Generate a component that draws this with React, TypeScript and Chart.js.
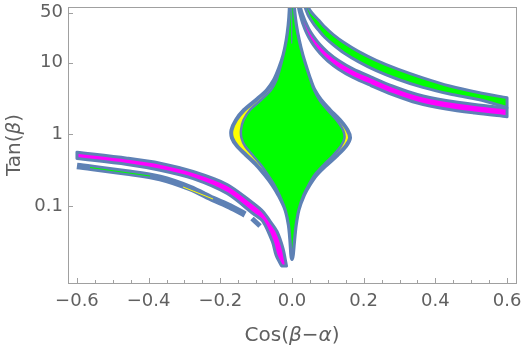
import React, { useEffect, useRef } from 'react';
import { Chart, registerables } from 'chart.js';

Chart.register(...registerables);

type P = [number, number];

// ---- axes ----
const X_TICKS = [-0.6, -0.4, -0.2, 0, 0.2, 0.4, 0.6];
const X_TICK_LABELS = ['\u22120.6', '\u22120.4', '\u22120.2', '0.0', '0.2', '0.4', '0.6'];
const X_MINOR_TICKS = [-0.55, -0.5, -0.45, -0.35, -0.3, -0.25, -0.15, -0.1, -0.05, 0.05, 0.1, 0.15, 0.25, 0.3, 0.35, 0.45, 0.5, 0.55];
const Y_TICKS = [0.1, 1, 10, 50];
const Y_TICK_LABELS = ['0.1', '1', '10', '50'];
const X_RANGE: P = [-0.625, 0.625];
const Y_RANGE: P = [0.00838, 60];

// ---- central region: outer boundary (yellow rim) ----
const centralOuter: P[] = [
  [-0.0055, 90], [-0.00642, 54.45], [-0.00948, 33.62], [-0.01506, 20.75], [-0.02371, 12.81],
  [-0.0357, 8.43], [-0.05021, 5.73], [-0.06974, 4.157], [-0.10042, 3.013], [-0.13389, 2.185],
  [-0.15621, 1.584], [-0.16876, 1.148], [-0.16736, 0.888], [-0.15342, 0.6866], [-0.12831, 0.514],
  [-0.09902, 0.3726], [-0.07531, 0.2702], [-0.05439, 0.1958], [-0.03766, 0.142], [-0.01813, 0.0877],
  [-0.00893, 0.0541], [-0.00474, 0.0334], [-0.00195, 0.0206], [0, 0.01813], [0.00223, 0.0206],
  [0.00614, 0.0334], [0.0106, 0.0541], [0.01813, 0.0877], [0.03347, 0.142], [0.04881, 0.1958],
  [0.06834, 0.2702], [0.09623, 0.3726], [0.12692, 0.514], [0.15063, 0.6866], [0.16179, 0.888],
  [0.15481, 1.148], [0.13389, 1.584], [0.106, 2.185], [0.08089, 3.013], [0.06276, 4.157],
  [0.0516, 5.73], [0.04045, 8.43], [0.02929, 12.81], [0.01897, 20.75], [0.01116, 33.62],
  [0.00614, 54.45], [0.0045, 90],
];
// ---- central region: inner (green) core ----
const centralInner: P[] = [
  [-0.0055, 90], [-0.00642, 54.45], [-0.00948, 33.62], [-0.01506, 20.75], [-0.02371, 12.81],
  [-0.03291, 8.43], [-0.04324, 5.73], [-0.05858, 4.157], [-0.08647, 3.013], [-0.11715, 2.185],
  [-0.13529, 1.584], [-0.14226, 1.148], [-0.14086, 0.888], [-0.1311, 0.6866], [-0.11018, 0.514],
  [-0.08647, 0.3726], [-0.06695, 0.2702], [-0.04881, 0.1958], [-0.03487, 0.142], [-0.01813, 0.0877],
  [-0.00893, 0.0541], [-0.00474, 0.0334], [-0.00195, 0.0206], [0, 0.01813], [0.00223, 0.0206],
  [0.00614, 0.0334], [0.0106, 0.0541], [0.01813, 0.0877], [0.03208, 0.142], [0.04603, 0.1958],
  [0.06276, 0.2702], [0.08787, 0.3726], [0.11576, 0.514], [0.13668, 0.6866], [0.14644, 0.888],
  [0.14226, 1.148], [0.12413, 1.584], [0.09902, 2.185], [0.07671, 3.013], [0.06137, 4.157],
  [0.0516, 5.73], [0.04045, 8.43], [0.02929, 12.81], [0.01897, 20.75], [0.01116, 33.62],
  [0.00614, 54.45], [0.0045, 90],
];
// thin boundary sliver inside the top of the core spike
const coreSpikeLine: P[] = [[-0.0008, 60], [-0.0008, 18.8]];

// ---- upper-right green band ----
const urGreenUpper: P[] = [
  [0.032, 90], [0.04, 70], [0.043, 64], [0.047, 57.5], [0.053, 51.5], [0.062, 45.5],
  [0.075, 39.1], [0.092, 31.4], [0.115, 24.7], [0.145, 19.1], [0.185, 14.4], [0.235, 10.8],
  [0.295, 8.12], [0.365, 6.14], [0.44, 4.73], [0.52, 3.835], [0.6, 3.245],
];
const urGreenLower: P[] = [
  [0.032, 68.6], [0.04, 53.1], [0.043, 48.8], [0.047, 44.1], [0.053, 39.6], [0.062, 33.9],
  [0.075, 28.1], [0.092, 22.5], [0.115, 17.8], [0.145, 13.7], [0.185, 10.37], [0.235, 7.75],
  [0.295, 5.88], [0.365, 4.52], [0.44, 3.655], [0.52, 3.062], [0.6, 2.367],
];
// ---- upper-right magenta band ----
const urMagentaUpper: P[] = [
  [0.0165, 84.7], [0.019, 73.6], [0.022, 63.5], [0.026, 53.8], [0.031, 45.1], [0.038, 36.8],
  [0.047, 29.7], [0.06, 23.3], [0.078, 17.9], [0.1, 13.98], [0.13, 10.75], [0.17, 8.22],
  [0.22, 6.35], [0.28, 4.73], [0.35, 3.596], [0.43, 2.965], [0.51, 2.608], [0.6, 2.33],
];
const urMagentaLower: P[] = [
  [0.0165, 64.1], [0.019, 55.6], [0.022, 48.0], [0.026, 40.7], [0.031, 34.1], [0.038, 27.8],
  [0.047, 22.5], [0.06, 17.6], [0.078, 13.55], [0.1, 10.57], [0.13, 8.13], [0.17, 6.22],
  [0.22, 4.8], [0.28, 3.596], [0.35, 2.736], [0.43, 2.256], [0.51, 1.984], [0.6, 1.762],
];

// ---- lower-left magenta band ----
const llMagentaUpper: P[] = [
  [-0.6, 0.562], [-0.46, 0.464], [-0.368, 0.395], [-0.276, 0.302], [-0.181, 0.199],
  [-0.109, 0.1098], [-0.081, 0.0835], [-0.0614, 0.0615], [-0.0418, 0.0439], [-0.0251, 0.0254],
  [-0.0153, 0.0145],
];
const llMagentaLower: P[] = [
  [-0.6, 0.459], [-0.46, 0.379], [-0.368, 0.315], [-0.276, 0.241], [-0.181, 0.149],
  [-0.109, 0.0783], [-0.081, 0.0605], [-0.0544, 0.0313], [-0.0446, 0.0206], [-0.0293, 0.0145],
];
// ---- lower-left thin (boundary-only) band ----
const llThinBand: P[] = [
  [-0.6, 0.3607], [-0.46, 0.2927], [-0.368, 0.2454], [-0.2845, 0.1778], [-0.2204, 0.1249],
  [-0.173, 0.0981], [-0.131, 0.0758],
];
const llThinDash: P[] = [[-0.1116, 0.0667], [-0.0893, 0.0524]];
const llGreenTrace: P[] = [[-0.5635, 0.344], [-0.396, 0.2616]];
const llYellowTrace: P[] = [[-0.304, 0.1837], [-0.2204, 0.1249]];

const X_TITLE_RUNS: [string, boolean][] = [['Cos(', false], ['\u03B2', true], ['\u2212', false], ['\u03B1', true], [')', false]];
const Y_TITLE_RUNS: [string, boolean][] = [['Tan(', false], ['\u03B2', true], [')', false]];

const BLUE = '#5E81B5';
const GREEN = '#00FF00';
const YELLOW = '#FFFF00';
const MAGENTA = '#FF00FF';
const FONT = '"DejaVu Sans", sans-serif';
const TEXT = '#606060';
const FRAME = '#a0a0a0';

const pts = (a: P[]) => a.map(([x, y]) => ({ x, y }));
// closed band outline; corner points are doubled so the spline keeps sharp corners at the caps
const closedBand = (u: P[], l: P[]) => {
  const lr = l.slice().reverse();
  return pts([...u, u[u.length - 1], ...lr.slice(0, 1), ...lr, lr[lr.length - 1], u[0]]);
};
const closed = (a: P[]) => pts([...a, a[0]]);

function drawRuns(ctx: CanvasRenderingContext2D, runs: [string, boolean][], size: number) {
  const fonts = runs.map(([, it]) => `${it ? 'italic ' : ''}${size}px ${FONT}`);
  let total = 0;
  const widths = runs.map(([t], i) => {
    ctx.font = fonts[i];
    const w = ctx.measureText(t).width;
    total += w;
    return w;
  });
  let x = -total / 2;
  runs.forEach(([t], i) => {
    ctx.font = fonts[i];
    ctx.fillText(t, x, 0);
    x += widths[i];
  });
}

const framePlugin = {
  id: 'frameAndTitles',
  afterDraw(chart: any) {
    const { ctx, chartArea } = chart;
    const { left, right, top, bottom } = chartArea;
    const xs = chart.scales.x;
    const ys = chart.scales.y;
    ctx.save();
    ctx.strokeStyle = FRAME;
    ctx.lineWidth = 1;
    ctx.strokeRect(Math.round(left) + 0.5, Math.round(top) + 0.5, Math.round(right - left), Math.round(bottom - top));
    ctx.beginPath();
    X_TICKS.forEach((v) => {
      const px = Math.round(xs.getPixelForValue(v)) + 0.5;
      ctx.moveTo(px, bottom);
      ctx.lineTo(px, bottom - 5);
    });
    X_MINOR_TICKS.forEach((v) => {
      const px = Math.round(xs.getPixelForValue(v)) + 0.5;
      ctx.moveTo(px, bottom);
      ctx.lineTo(px, bottom - 3);
    });
    Y_TICKS.forEach((v) => {
      const py = Math.round(ys.getPixelForValue(v)) + 0.5;
      ctx.moveTo(left, py);
      ctx.lineTo(left + 5, py);
    });
    ctx.stroke();
    ctx.fillStyle = TEXT;
    ctx.textBaseline = 'middle';
    ctx.textAlign = 'left';
    ctx.save();
    ctx.translate((left + right) / 2, 336);
    drawRuns(ctx, X_TITLE_RUNS, 20);
    ctx.restore();
    ctx.save();
    ctx.translate(15, (top + bottom) / 2);
    ctx.rotate(-Math.PI / 2);
    drawRuns(ctx, Y_TITLE_RUNS, 20);
    ctx.restore();
    ctx.restore();
  },
};

function labelFor(ticks: number[], labels: string[], v: number) {
  const i = ticks.findIndex((t) => Math.abs(t - v) < 1e-9 * Math.max(1, Math.abs(t)));
  return i >= 0 ? labels[i] : '';
}

export default function App() {
  const ref = useRef<HTMLCanvasElement | null>(null);
  useEffect(() => {
    if (!ref.current) return;
    const base = { pointRadius: 0, pointHoverRadius: 0, borderJoinStyle: 'round' as const };
    const region = (data: any, fillColor: string, width: number, order: number) => ({
      ...base, data, borderColor: BLUE, backgroundColor: fillColor, borderWidth: width,
      fill: 'shape', tension: 0.3, borderCapStyle: 'round', order,
    });
    const chart = new Chart(ref.current, {
      type: 'line',
      data: {
        datasets: [
          { ...base, data: pts(llYellowTrace), borderColor: YELLOW, borderWidth: 1, fill: false, order: 1 },
          { ...base, data: pts(llGreenTrace), borderColor: GREEN, borderWidth: 1, fill: false, order: 1 },
          { ...base, data: pts(coreSpikeLine), borderColor: BLUE, borderWidth: 1.2, fill: false, order: 1 },
          region(closed(centralInner), GREEN, 2.5, 5),
          region(closed(centralOuter), YELLOW, 4, 6),
          region(closedBand(urGreenUpper, urGreenLower), GREEN, 3, 7),
          region(closedBand(urMagentaUpper, urMagentaLower), MAGENTA, 3, 8),
          region(closedBand(llMagentaUpper, llMagentaLower), MAGENTA, 3, 9),
          { ...base, data: pts(llThinBand), borderColor: BLUE, borderWidth: 6.5, fill: false, tension: 0.3, borderCapStyle: 'butt', order: 10 },
          { ...base, data: pts(llThinDash), borderColor: BLUE, borderWidth: 5, fill: false, borderCapStyle: 'butt', order: 10 },
        ],
      },
      options: {
        animation: false,
        responsive: false,
        events: [],
        layout: { padding: { top: 7, right: 8, left: 0, bottom: 0 } },
        plugins: { legend: { display: false }, tooltip: { enabled: false } },
        scales: {
          x: {
            type: 'linear',
            min: X_RANGE[0],
            max: X_RANGE[1],
            afterFit: (s: any) => { s.height = 65; s.paddingLeft = 0; s.paddingRight = 0; },
            afterBuildTicks: (s: any) => { s.ticks = X_TICKS.map((v) => ({ value: v })); },
            grid: { display: false, drawTicks: false },
            border: { display: false },
            ticks: {
              autoSkip: false,
              maxRotation: 0,
              padding: 8,
              color: TEXT,
              font: { family: FONT, size: 18 },
              callback: (v: any) => labelFor(X_TICKS, X_TICK_LABELS, Number(v)),
            },
          },
          y: {
            type: 'logarithmic',
            min: Y_RANGE[0],
            max: Y_RANGE[1],
            afterFit: (s: any) => { s.width = 68; s.paddingTop = 0; s.paddingBottom = 0; },
            afterBuildTicks: (s: any) => { s.ticks = Y_TICKS.map((v) => ({ value: v })); },
            grid: { display: false, drawTicks: false },
            border: { display: false },
            ticks: {
              autoSkip: false,
              padding: 5,
              color: TEXT,
              font: { family: FONT, size: 18 },
              callback: (v: any) => labelFor(Y_TICKS, Y_TICK_LABELS, Number(v)),
            },
          },
        },
      } as any,
      plugins: [framePlugin],
    });
    return () => chart.destroy();
  }, []);
  return (
    <div style={{ position: 'absolute', left: 0, top: 0, width: 524, height: 348, background: '#fff' }}>
      <canvas ref={ref} width={524} height={348} style={{ width: 524, height: 348, display: 'block' }} />
    </div>
  );
}
